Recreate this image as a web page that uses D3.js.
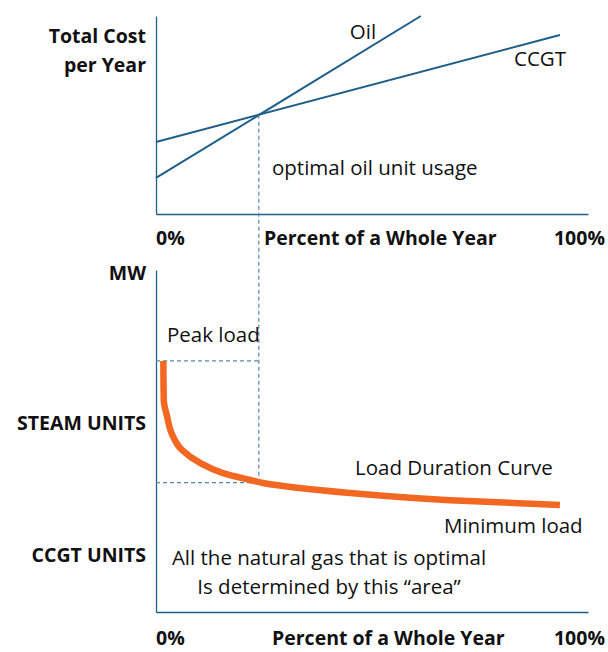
<!DOCTYPE html>
<html>
<head>
<meta charset="utf-8">
<script src="https://cdn.jsdelivr.net/npm/d3@7"></script>
<style>
  body { margin: 0; background: #fff; }
  text { font-family: "Open Sans", sans-serif; fill: #111; }
  .bold { font-weight: bold; }
</style>
</head>
<body>
<script>
// percent of year where each cost line starts / ends, and cost level (0-100)
var ccgtLine = [{x: 0, y: 36.4}, {x: 93.5, y: 90.4}];
var oilLine = [{x: 0, y: 18.2}, {x: 61.3, y: 100}];
var crossover = 23.8; // optimal oil unit usage, % of year

// load duration curve: % of year vs MW (relative 0-100)
var loadPct = [1.7, 1.8, 2.6, 3.6, 6.0, 10.2, 15.5, 21.8, 24.8, 44.9, 68.1, 93.5];
var loadMW  = [73.4, 62.0, 57.0, 52.3, 47.4, 43.6, 40.6, 38.6, 37.7, 34.8, 32.7, 31.3];
var peakLoad = 73.4;
var crossLoad = 37.8;

var topYLabels = ["Total Cost", "per Year"];
var bottomYLabels = ["MW", "STEAM UNITS", "CCGT UNITS"];
var xTickLabels = ["0%", "100%"];
var xTitle = "Percent of a Whole Year";

var blue = "#1d5e8a", dashBlue = "#5a86a6", orange = "#f26722";
var width = 608, height = 652;

var svg = d3.select("body").append("svg")
    .attr("width", width)
    .attr("height", height);

var x = d3.scaleLinear().domain([0, 100]).range([156, 588]);
var yTop = d3.scaleLinear().domain([0, 100]).range([214, 16]);
var yBot = d3.scaleLinear().domain([0, 100]).range([612, 270]);

function drawAxes(y, y0) {
    svg.append("g")
        .attr("transform", "translate(0," + y0 + ")")
        .call(d3.axisBottom(x).ticks(0).tickSizeOuter(0))
        .select(".domain").attr("stroke", blue).attr("stroke-width", 1.3);
    svg.append("g")
        .attr("transform", "translate(" + x(0) + ",0)")
        .call(d3.axisLeft(y).ticks(0).tickSizeOuter(0))
        .select(".domain").attr("stroke", blue).attr("stroke-width", 1.3);
}
drawAxes(yTop, 214);
drawAxes(yBot, 612);

// top panel: cost lines
var costLine = d3.line().x(function(d) { return x(d.x); }).y(function(d) { return yTop(d.y); });
svg.append("path").datum(ccgtLine).attr("d", costLine)
    .attr("fill", "none").attr("stroke", blue).attr("stroke-width", 2);
svg.append("path").datum(oilLine).attr("d", costLine)
    .attr("fill", "none").attr("stroke", blue).attr("stroke-width", 2);

// crossover cost
var crossCost = ccgtLine[0].y + (ccgtLine[1].y - ccgtLine[0].y) * crossover / ccgtLine[1].x;

// dashed guides
svg.append("line")
    .attr("x1", x(crossover)).attr("x2", x(crossover))
    .attr("y1", yTop(crossCost)).attr("y2", yBot(crossLoad))
    .attr("stroke", dashBlue).attr("stroke-width", 1.2).attr("stroke-dasharray", "4,3");
[peakLoad, crossLoad].forEach(function(v) {
    svg.append("line")
        .attr("x1", x(0)).attr("x2", x(crossover))
        .attr("y1", yBot(v)).attr("y2", yBot(v))
        .attr("stroke", dashBlue).attr("stroke-width", 1.2).attr("stroke-dasharray", "4,3");
});

// load duration curve
var loadData = loadPct.map(function(p, i) { return [p, loadMW[i]]; });
svg.append("path").datum(loadData)
    .attr("d", d3.line().x(function(d) { return x(d[0]); }).y(function(d) { return yBot(d[1]); })
        .curve(d3.curveMonotoneY))
    .attr("fill", "none").attr("stroke", orange).attr("stroke-width", 6.5);

// y labels
var boldSize = "19.5px", noteSize = "20.5px";
topYLabels.forEach(function(t, i) {
    svg.append("text").attr("class", "bold").attr("x", 146).attr("y", 43 + i * 29)
        .attr("text-anchor", "end").style("font-size", boldSize).text(t);
});
var botY = [280, 430, 562];
bottomYLabels.forEach(function(t, i) {
    svg.append("text").attr("class", "bold").attr("x", 146).attr("y", botY[i])
        .attr("text-anchor", "end").style("font-size", boldSize).text(t);
});

// x labels for both panels
[245, 645].forEach(function(by, k) {
    svg.append("text").attr("class", "bold").attr("x", x(0)).attr("y", by)
        .style("font-size", boldSize).text(xTickLabels[0]);
    svg.append("text").attr("class", "bold").attr("x", 605).attr("y", by)
        .attr("text-anchor", "end").style("font-size", boldSize).text(xTickLabels[1]);
    svg.append("text").attr("class", "bold").attr("x", k === 0 ? 264 : 272).attr("y", by)
        .style("font-size", boldSize).text(xTitle);
});

// annotations
function note(t, px, py, anchor) {
    svg.append("text").attr("x", px).attr("y", py)
        .attr("text-anchor", anchor || "start").style("font-size", noteSize).text(t);
}
note("Oil", 363, 39, "middle");
note("CCGT", 540, 66, "middle");
note("optimal oil unit usage", 272, 175);
note("Peak load", 167, 342);
note("Load Duration Curve", 355, 475);
note("Minimum load", 444, 533);
note("All the natural gas that is optimal", 329, 565, "middle");
note("Is determined by this \u201carea\u201d", 329, 594, "middle");
</script>
</body>
</html>
